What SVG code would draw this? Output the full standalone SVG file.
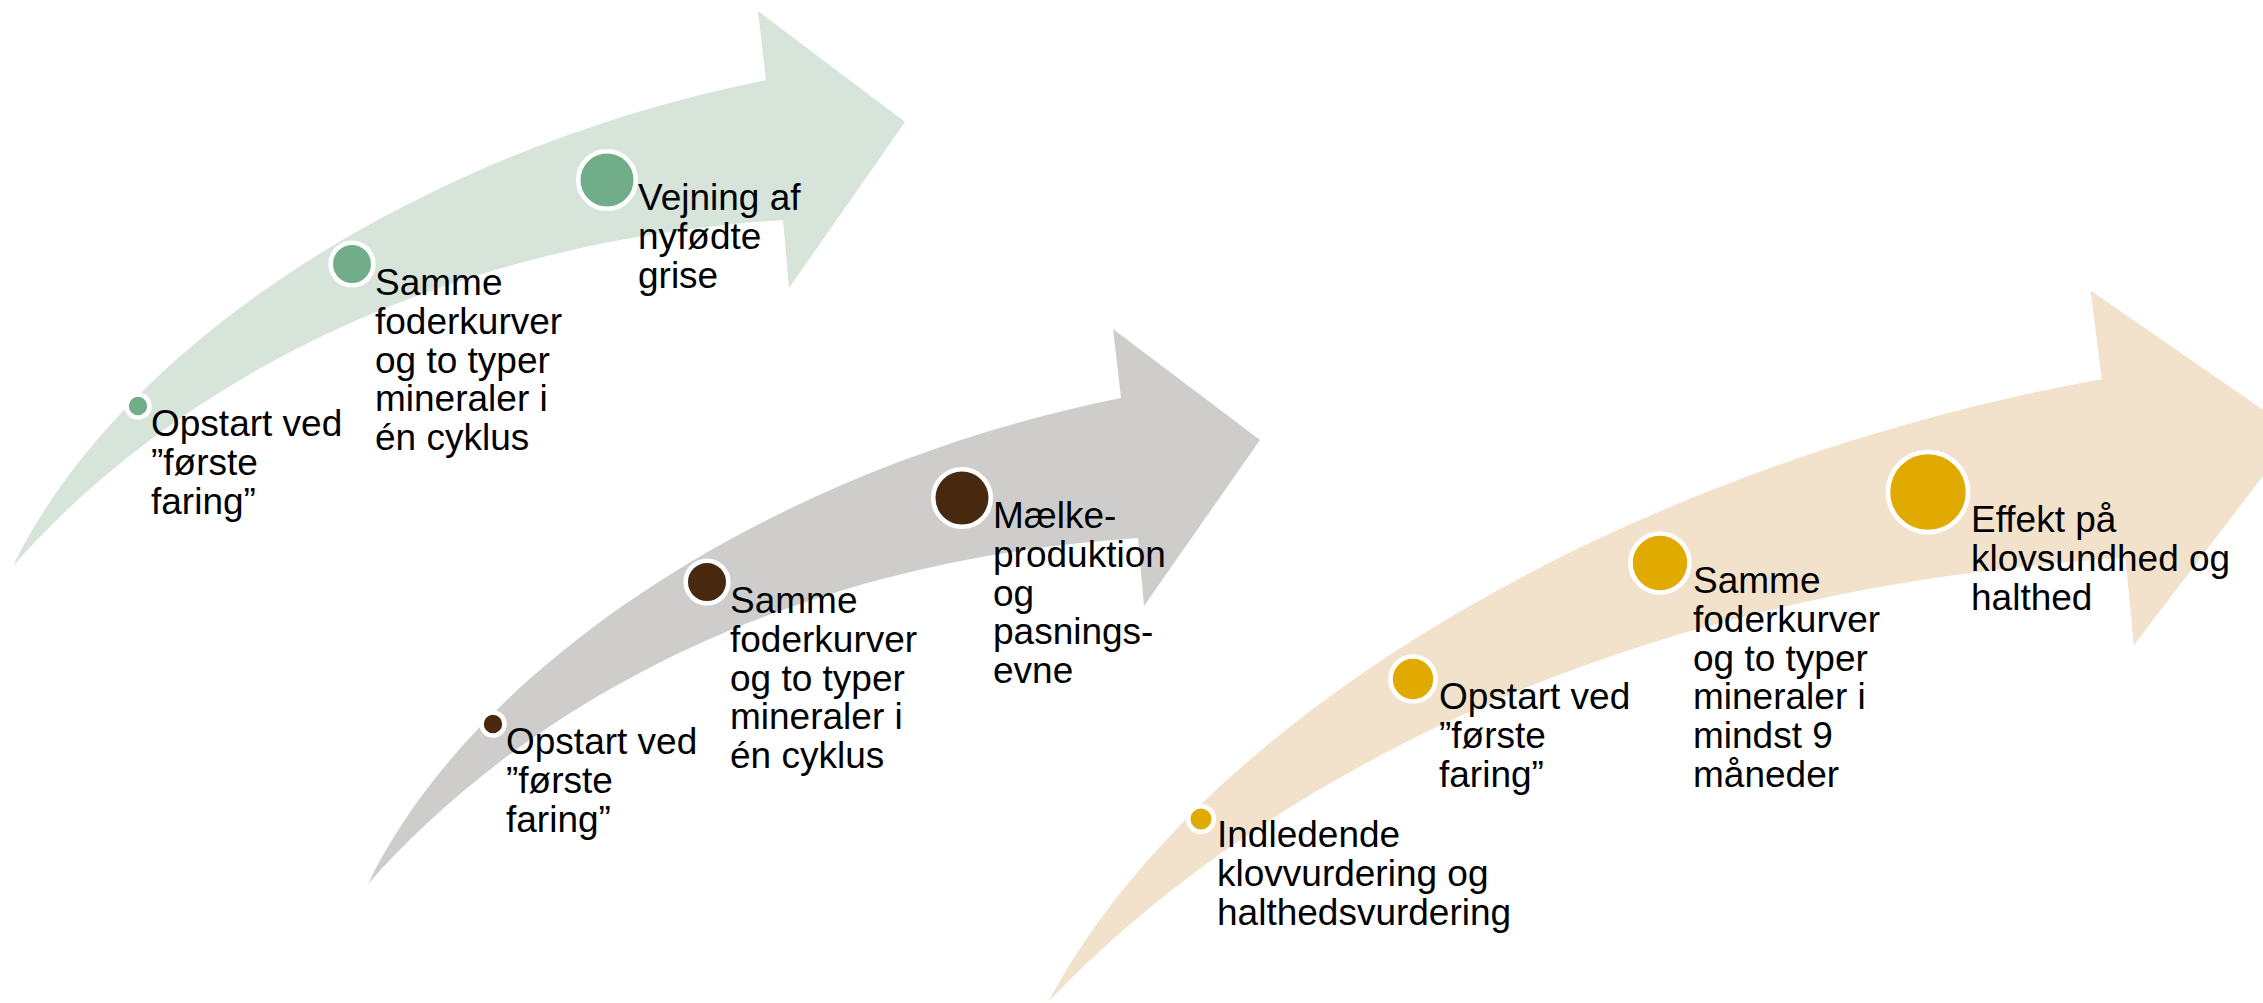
<svg xmlns="http://www.w3.org/2000/svg" xmlns:xlink="http://www.w3.org/1999/xlink" width="2263" height="1003" viewBox="0 0 2263 1003">
<style>
  .lbl { font-family: "Liberation Sans", Arial, sans-serif; font-size: 37px; fill: #000000; }
  .dot { stroke: #FFFFFF; stroke-width: 4.6; }
  .g { fill: #72AD8A; }
  .b { fill: #48280F; }
  .o { fill: #E0AA00; }
</style>
<defs>
  <path id="arrowShape" d="M 0,0 C 107,-221 408,-417 753,-486 L 745,-555 L 892,-444 L 776,-278 L 770,-346 C 388,-321 137,-156 0,0 Z"/>
</defs>
<g id="arrows">
  <use xlink:href="#arrowShape" href="#arrowShape" transform="translate(13,566)" fill="#D6E4DA"/>
  <use xlink:href="#arrowShape" href="#arrowShape" transform="translate(368,884)" fill="#CECDCC"/>
  <use xlink:href="#arrowShape" href="#arrowShape" transform="translate(1049,1001) scale(1.398,1.28)" fill="#F2E2CB"/>
</g>
<g id="connectors"></g>

<g id="g1">
  <circle class="dot g" cx="138" cy="406" r="11.5"/>
  <text class="lbl" x="151" y="436"><tspan x="151">Opstart ved</tspan><tspan x="151" dy="38.8">”første</tspan><tspan x="151" dy="38.8">faring”</tspan></text>
</g>
<g id="g2">
  <circle class="dot g" cx="352" cy="264" r="21.3"/>
  <text class="lbl" x="375" y="295"><tspan x="375">Samme</tspan><tspan x="375" dy="38.8">foderkurver</tspan><tspan x="375" dy="38.8">og to typer</tspan><tspan x="375" dy="38.8">mineraler i</tspan><tspan x="375" dy="38.8">én cyklus</tspan></text>
</g>
<g id="g3">
  <circle class="dot g" cx="607" cy="180" r="28.8"/>
  <text class="lbl" x="638" y="210"><tspan x="638">Vejning af</tspan><tspan x="638" dy="38.8">nyfødte</tspan><tspan x="638" dy="38.8">grise</tspan></text>
</g>

<g id="b1">
  <circle class="dot b" cx="493" cy="724" r="11.5"/>
  <text class="lbl" x="506" y="754"><tspan x="506">Opstart ved</tspan><tspan x="506" dy="38.8">”første</tspan><tspan x="506" dy="38.8">faring”</tspan></text>
</g>
<g id="b2">
  <circle class="dot b" cx="707" cy="582" r="21.3"/>
  <text class="lbl" x="730" y="613"><tspan x="730">Samme</tspan><tspan x="730" dy="38.8">foderkurver</tspan><tspan x="730" dy="38.8">og to typer</tspan><tspan x="730" dy="38.8">mineraler i</tspan><tspan x="730" dy="38.8">én cyklus</tspan></text>
</g>
<g id="b3">
  <circle class="dot b" cx="962" cy="498" r="28.8"/>
  <text class="lbl" x="993" y="528"><tspan x="993">Mælke-</tspan><tspan x="993" dy="38.8">produktion</tspan><tspan x="993" dy="38.8">og</tspan><tspan x="993" dy="38.8">pasnings-</tspan><tspan x="993" dy="38.8">evne</tspan></text>
</g>

<g id="o1">
  <circle class="dot o" cx="1201" cy="819" r="12.8"/>
  <text class="lbl" x="1217" y="847"><tspan x="1217">Indledende</tspan><tspan x="1217" dy="38.8">klovvurdering og</tspan><tspan x="1217" dy="38.8">halthedsvurdering</tspan></text>
</g>
<g id="o2">
  <circle class="dot o" cx="1413" cy="679" r="22.5"/>
  <text class="lbl" x="1439" y="709"><tspan x="1439">Opstart ved</tspan><tspan x="1439" dy="38.8">”første</tspan><tspan x="1439" dy="38.8">faring”</tspan></text>
</g>
<g id="o3">
  <circle class="dot o" cx="1660" cy="563" r="29.5"/>
  <text class="lbl" x="1693" y="593"><tspan x="1693">Samme</tspan><tspan x="1693" dy="38.8">foderkurver</tspan><tspan x="1693" dy="38.8">og to typer</tspan><tspan x="1693" dy="38.8">mineraler i</tspan><tspan x="1693" dy="38.8">mindst 9</tspan><tspan x="1693" dy="38.8">måneder</tspan></text>
</g>
<g id="o4">
  <circle class="dot o" cx="1928" cy="492" r="40"/>
  <text class="lbl" x="1971" y="532"><tspan x="1971">Effekt på</tspan><tspan x="1971" dy="38.8">klovsundhed og</tspan><tspan x="1971" dy="38.8">halthed</tspan></text>
</g>
</svg>
